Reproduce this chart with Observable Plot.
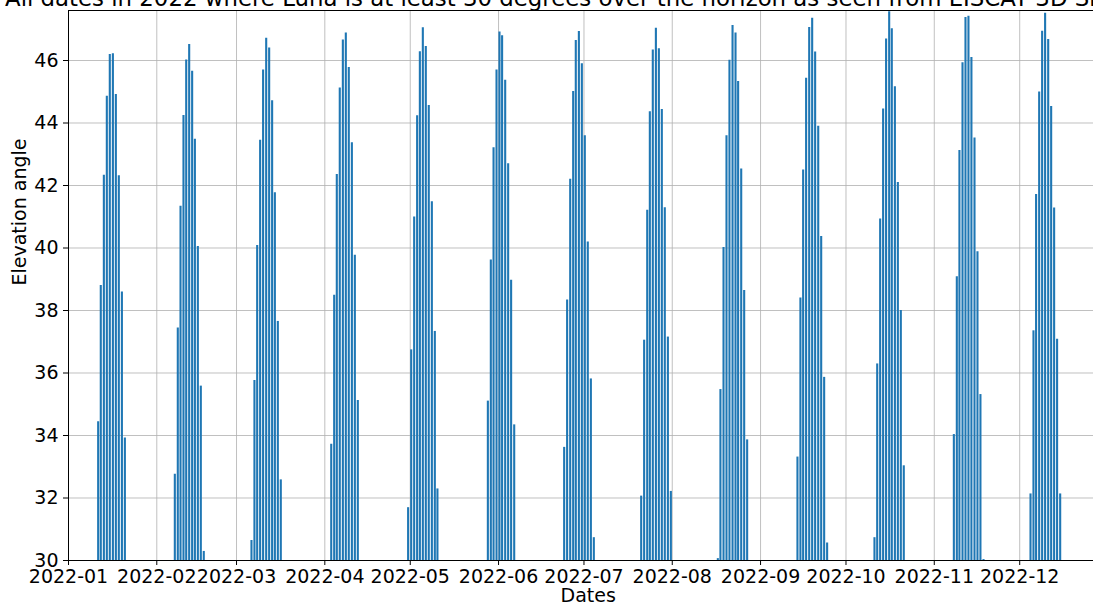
<!DOCTYPE html>
<html><head><meta charset="utf-8">
<script src="https://cdn.jsdelivr.net/npm/d3@7"></script>
<script src="https://cdn.jsdelivr.net/npm/@observablehq/plot@0.6"></script>
<style>
html,body{margin:0;padding:0;overflow:hidden;background:#fff;width:1093px;height:604px;}
#wrap{position:relative;width:1093px;height:604px;overflow:hidden;}
#chart{position:absolute;left:0;top:0;}
#title{position:absolute;left:5px;top:-15.5px;font-family:"DejaVu Sans";font-size:22.85px;line-height:27px;white-space:nowrap;color:#000;}
</style></head><body>
<div id="wrap"><div id="chart"></div><div id="title">All dates in 2022 where Luna is at least 30 degrees over the horizon as seen from EISCAT 3D Skibotn</div></div>
<script>
// Daily maximum elevation (degrees) of each pass above 30°
const jan = [["2022-01-11T10",34.44],["2022-01-12T08",38.80],["2022-01-13T10",42.33],["2022-01-14T11",44.86],["2022-01-15T12",46.19],["2022-01-16T14",46.22],["2022-01-17T15",44.91],["2022-01-18T16",42.31],["2022-01-19T18",38.59],["2022-01-20T19",33.92]];
const feb = [["2022-02-07T08",32.76],["2022-02-08T09",37.44],["2022-02-09T08",41.34],["2022-02-10T09",44.24],["2022-02-11T08",46.02],["2022-02-12T09",46.51],["2022-02-13T10",45.66],["2022-02-14T09",43.48],["2022-02-15T10",40.05],["2022-02-16T11",35.58],["2022-02-17T12",30.29]];
const mar = [["2022-03-06T06",30.64],["2022-03-07T07",35.76],["2022-03-08T06",40.08],["2022-03-09T07",43.45],["2022-03-10T08",45.70],["2022-03-11T10",46.71],["2022-03-12T11",46.40],["2022-03-13T12",44.71],["2022-03-14T11",41.77],["2022-03-15T12",37.65],["2022-03-16T13",32.58]];
const apr = [["2022-04-03T06",33.72],["2022-04-04T07",38.49],["2022-04-05T05",42.35],["2022-04-06T06",45.12],["2022-04-07T08",46.66],["2022-04-08T09",46.88],["2022-04-09T10",45.78],["2022-04-10T12",43.37],["2022-04-11T13",39.77],["2022-04-12T14",35.12]];
const may = [["2022-04-30T06",31.69],["2022-05-01T08",36.74],["2022-05-02T09",40.99],["2022-05-03T10",44.23],["2022-05-04T09",46.28],["2022-05-05T10",47.05],["2022-05-06T11",46.45],["2022-05-07T12",44.56],["2022-05-08T14",41.48],["2022-05-09T15",37.33],["2022-05-10T13",32.29]];
const jun = [["2022-05-28T06",35.10],["2022-05-29T07",39.62],["2022-05-30T06",43.21],["2022-05-31T07",45.70],["2022-06-01T08",46.91],["2022-06-02T06",46.79],["2022-06-03T08",45.37],["2022-06-04T09",42.70],["2022-06-05T10",38.97],["2022-06-06T12",34.34]];
const jul = [["2022-06-24T01",33.62],["2022-06-25T02",38.34],["2022-06-26T04",42.20],["2022-06-27T05",45.01],["2022-06-28T03",46.64],["2022-06-29T05",46.93],["2022-06-30T06",45.90],["2022-07-01T07",43.59],["2022-07-02T08",40.19],["2022-07-03T10",35.81],["2022-07-04T11",30.73]];
const aug = [["2022-07-21T02",32.06],["2022-07-22T03",37.05],["2022-07-23T05",41.21],["2022-07-24T03",44.36],["2022-07-25T04",46.34],["2022-07-26T06",47.03],["2022-07-27T07",46.38],["2022-07-28T08",44.43],["2022-07-29T09",41.29],["2022-07-30T11",37.15],["2022-07-31T12",32.21]];
const augSep = [["2022-08-17T00",30.06],["2022-08-17T22",35.47],["2022-08-19T00",40.02],["2022-08-20T01",43.59],["2022-08-21T02",46.01],["2022-08-22T04",47.12],["2022-08-23T05",46.88],["2022-08-24T03",45.33],["2022-08-25T05",42.53],["2022-08-26T06",38.64],["2022-08-27T07",33.86]];
const sep = [["2022-09-13T23",33.31],["2022-09-15T00",38.40],["2022-09-15T23",42.50],["2022-09-17T00",45.43],["2022-09-18T02",47.06],["2022-09-19T03",47.35],["2022-09-20T04",46.27],["2022-09-21T06",43.90],["2022-09-22T07",40.37],["2022-09-23T08",35.86],["2022-09-24T09",30.56]];
const oct = [["2022-10-11T00",30.73],["2022-10-11T23",36.29],["2022-10-13T00",40.93],["2022-10-14T01",44.45],["2022-10-15T02",46.69],["2022-10-16T04",47.56],["2022-10-17T02",47.02],["2022-10-18T04",45.16],["2022-10-19T05",42.10],["2022-10-20T06",38.00],["2022-10-21T07",33.03]];
const nov = [["2022-11-07T21",34.03],["2022-11-08T22",39.08],["2022-11-09T20",43.12],["2022-11-10T22",45.93],["2022-11-11T23",47.38],["2022-11-13T00",47.42],["2022-11-14T01",46.10],["2022-11-15T03",43.52],["2022-11-16T04",39.88],["2022-11-17T05",35.31],["2022-11-18T07",30.03]];
const dec = [["2022-12-04T19",32.13],["2022-12-05T20",37.35],["2022-12-06T18",41.71],["2022-12-07T20",44.99],["2022-12-08T21",46.94],["2022-12-09T22",47.51],["2022-12-11T00",46.67],["2022-12-12T01",44.53],["2022-12-13T02",41.28],["2022-12-14T03",37.08],["2022-12-15T05",32.13]];

const xTicks = ["2022-01","2022-02","2022-03","2022-04","2022-05","2022-06","2022-07","2022-08","2022-09","2022-10","2022-11","2022-12"];
const yTicks = [30,32,34,36,38,40,42,44,46];
const xDomain = ["2022-01-01","2023-01-01"];
const yDomain = [30, 47.6];

const parseT = s => new Date(s + ":00:00Z");
const spikes = [jan,feb,mar,apr,may,jun,jul,aug,augSep,sep,oct,nov,dec].flat().map(([t,e]) => ({time: parseT(t), elev: e}));
const xTickDates = xTicks.map(s => new Date(s + "-01T00:00:00Z"));
const fmt = d3.utcFormat("%Y-%m");

const FS = 19;
const chart = Plot.plot({
  width: 1120, height: 604,
  marginLeft: 68, marginRight: 12.5, marginTop: 10, marginBottom: 44,
  style: {fontFamily: "DejaVu Sans", fontSize: FS + "px", color: "#000", background: "#fff"},
  x: {type: "utc", domain: xDomain.map(s => new Date(s + "T00:00:00Z"))},
  y: {domain: yDomain},
  marks: [
    Plot.gridX(xTickDates, {stroke: "#b0b0b0", strokeOpacity: 0.8, strokeWidth: 1}),
    Plot.gridY(yTicks, {stroke: "#b0b0b0", strokeOpacity: 0.8, strokeWidth: 1}),
    Plot.ruleX(spikes, {x: "time", y1: yDomain[0], y2: "elev", stroke: "#1f77b4", strokeWidth: 2.1}),
    Plot.frame({stroke: "#000", strokeWidth: 1}),
    Plot.axisX(xTickDates, {tickFormat: fmt, tickSize: 5, tickPadding: 4.3, fontSize: FS, label: null, strokeWidth: 1}),
    Plot.axisY(yTicks, {tickSize: 5, tickPadding: 5, fontSize: FS, label: null, strokeWidth: 1}),
    Plot.text(["Dates"], {frameAnchor: "bottom", lineAnchor: "bottom", dy: 41.5, fontSize: FS, fill: "#000"}),
    Plot.text(["Elevation angle"], {frameAnchor: "left", lineAnchor: "bottom", rotate: -90, dx: -43, fontSize: FS, fill: "#000"})
  ]
});
chart.style.maxWidth = "none";
chart.style.width = "1120px";
chart.style.height = "604px";
document.getElementById("chart").appendChild(chart);
</script>
</body></html>
